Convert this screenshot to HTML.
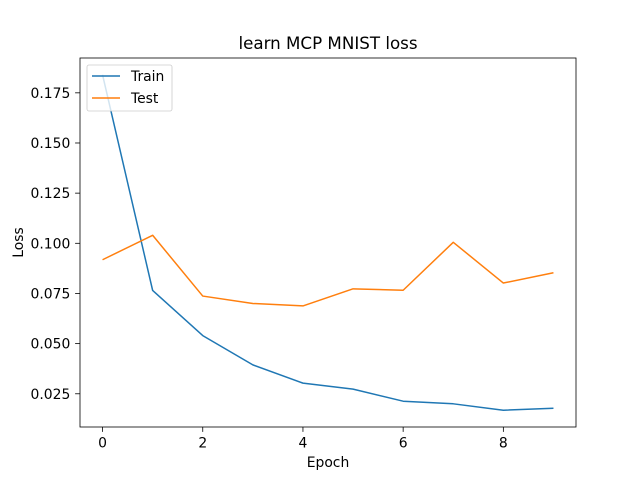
<!DOCTYPE html>
<html><head><meta charset="utf-8"><style>
body{margin:0;background:#fff;}
svg text{font-family:"DejaVu Sans","Liberation Sans",sans-serif;fill:#000;}
</style></head><body>
<svg id="chart" width="640" height="480" viewBox="0 0 640 480" xmlns="http://www.w3.org/2000/svg">
<rect width="640" height="480" fill="#fff"/>
<text x="328" y="49" font-size="16.7" text-anchor="middle">learn MCP MNIST loss</text>
<g id="axes"></g>
<rect x="80" y="58" width="496" height="369" fill="none" stroke="#000" stroke-width="0.8"/>
<text x="328" y="467" font-size="13.9" text-anchor="middle">Epoch</text>
<text transform="translate(23,242.5) rotate(-90)" font-size="13.9" text-anchor="middle">Loss</text>
<g>
<rect x="87" y="65" width="85" height="46" rx="2" fill="#fff" fill-opacity="0.8" stroke="#ccc" stroke-width="0.8"/>
<line x1="92" y1="76" x2="120" y2="76" stroke="#1f77b4" stroke-width="1.5"/>
<text x="131" y="81" font-size="13.9">Train</text>
<line x1="92" y1="98" x2="120" y2="98" stroke="#ff7f0e" stroke-width="1.5"/>
<text x="131" y="103" font-size="13.9">Test</text>
</g>
</svg>
<script>
const epochs=[0,1,2,3,4,5,6,7,8,9];
const trainLoss=[0.184,0.0765,0.0540,0.0394,0.0303,0.0273,0.0213,0.0200,0.0168,0.0178];
const testLoss=[0.0918,0.1040,0.0737,0.0700,0.0688,0.0773,0.0766,0.1005,0.0802,0.0853];
const xTicks=[0,2,4,6,8];
const yTicks=[0.025,0.050,0.075,0.100,0.125,0.150,0.175];
const yTickLabels=["0.025","0.050","0.075","0.100","0.125","0.150","0.175"];
const NS="http://www.w3.org/2000/svg";
const X0=80,X1=576,Y0=58,Y1=427;
const all=trainLoss.concat(testLoss);
const mn=Math.min(...all),mx=Math.max(...all),r=mx-mn;
const ymin=mn-0.05*r,ymax=mx+0.05*r;
const xmin=-0.45,xmax=9.45;
function sx(v){return X0+(v-xmin)/(xmax-xmin)*(X1-X0);}
function sy(v){return Y1-(v-ymin)/(ymax-ymin)*(Y1-Y0);}
const ax=document.getElementById('axes');
function mk(t,a){const e=document.createElementNS(NS,t);for(const k in a)e.setAttribute(k,a[k]);return e;}
xTicks.forEach(t=>{
  const x=sx(t);
  const l=mk('line',{x1:x,x2:x,y1:Y1,y2:Y1+4.9,stroke:'#000','stroke-width':0.8});
  
  
  ax.appendChild(l);
  const tx=mk('text',{x:x,y:Y1+20.5,'font-size':13.9,'text-anchor':'middle'});
  tx.textContent=String(t);
  
  
  ax.appendChild(tx);
});
yTicks.forEach((t,i)=>{
  const y=sy(t);
  const l=mk('line',{x1:X0-4.9,x2:X0,y1:y,y2:y,stroke:'#000','stroke-width':0.8});
  
  
  ax.appendChild(l);
  const tx=mk('text',{x:X0-9.7,y:y+5,'font-size':13.9,'text-anchor':'end'});
  tx.textContent=yTickLabels[i];
  
  
  ax.appendChild(tx);
});
function line(vals,color,name){
  const p=mk('polyline',{points:vals.map((v,i)=>sx(epochs[i])+','+sy(v)).join(' '),fill:'none',stroke:color,'stroke-width':1.5,'stroke-linejoin':'round'});
  
  
  ax.appendChild(p);
}
line(trainLoss,'#1f77b4','train-line');
line(testLoss,'#ff7f0e','test-line');
</script>
</body></html>
